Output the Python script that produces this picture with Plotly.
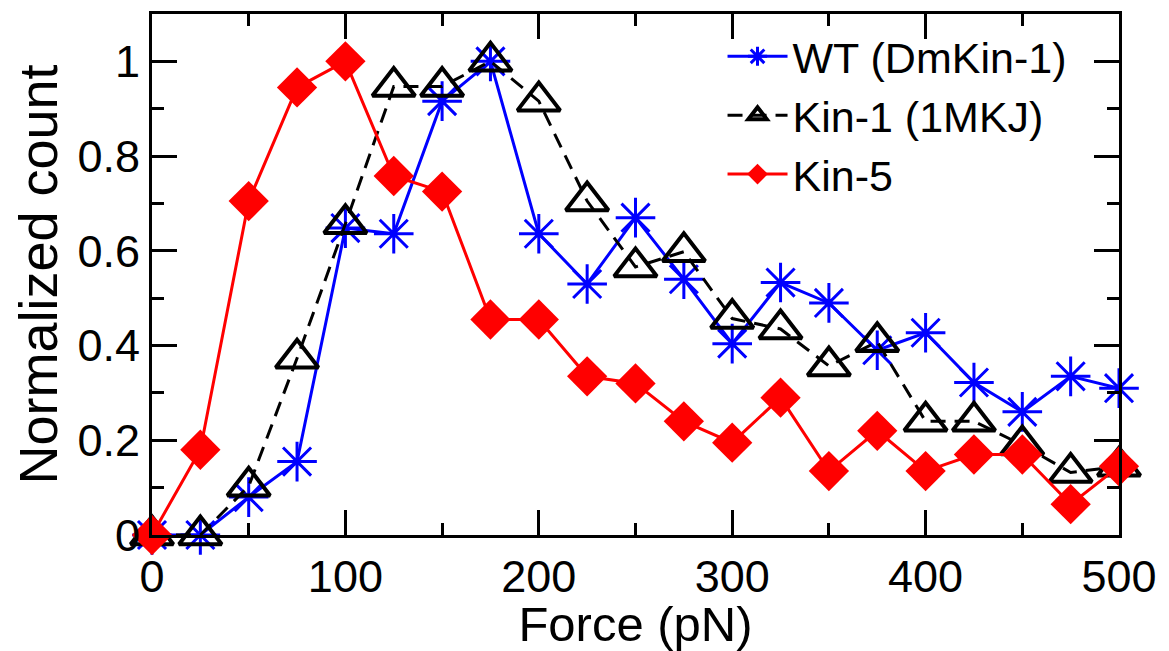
import plotly.graph_objects as go

force = [0, 25, 50, 75, 100, 125, 150, 175, 200, 225, 250, 275, 300, 325, 350, 375, 400, 425, 450, 475, 500]
wt = [0.0, 0.0, 0.08, 0.155, 0.648, 0.636, 0.916, 1.0, 0.636, 0.53, 0.67, 0.54, 0.404, 0.533, 0.49, 0.39, 0.427, 0.322, 0.26, 0.335, 0.31]
kin1 = [0.0, 0.0, 0.103, 0.373, 0.657, 0.947, 0.947, 1.0, 0.916, 0.705, 0.566, 0.598, 0.457, 0.435, 0.357, 0.408, 0.24, 0.24, 0.19, 0.132, 0.145]
kin5 = [0.0, 0.18, 0.705, 0.945, 1.0, 0.758, 0.725, 0.455, 0.455, 0.335, 0.32, 0.24, 0.195, 0.29, 0.135, 0.22, 0.135, 0.17, 0.17, 0.065, 0.145]

FONT = "Liberation Sans, Arial, Helvetica, sans-serif"

fig = go.Figure()
fig.add_trace(go.Scatter(
    x=force, y=wt, name="WT (DmKin-1)", mode="lines+markers",
    line=dict(color="#0000ff", width=3),
    marker=dict(symbol="asterisk-open", size=33, color="#0000ff", line=dict(color="#0000ff", width=3)),
    cliponaxis=False))
fig.add_trace(go.Scatter(
    x=force, y=kin1, name="Kin-1 (1MKJ)", mode="lines+markers",
    line=dict(color="black", width=3, dash="15px,9px"),
    marker=dict(symbol="triangle-up-open", size=37, color="black", line=dict(color="black", width=4)),
    cliponaxis=False))
fig.add_trace(go.Scatter(
    x=force, y=kin5, name="Kin-5", mode="lines+markers",
    line=dict(color="#ff0000", width=3),
    marker=dict(symbol="diamond", size=31, color="#ff0000", line=dict(width=0)),
    cliponaxis=False))

axis_common = dict(
    showline=True, linecolor="black", linewidth=3, mirror="allticks",
    ticks="inside", ticklen=25, tickwidth=3, tickcolor="black",
    showgrid=False, zeroline=False, automargin=False,
    tickfont=dict(family=FONT, size=45, color="black"),
)

fig.update_xaxes(
    range=[0, 500], dtick=100, tick0=0,
    minor=dict(ticks="inside", ticklen=12, tickwidth=3, tickcolor="black", dtick=50, showgrid=False),
    title=dict(text="Force (pN)", font=dict(family=FONT, size=49, color="black"), standoff=6),
    **axis_common)
fig.update_yaxes(
    range=[0, 1.1], dtick=0.2, tick0=0,
    minor=dict(ticks="inside", ticklen=12, tickwidth=3, tickcolor="black", dtick=0.1, showgrid=False),
    title=dict(text="Normalized count", font=dict(family=FONT, size=54, color="black"), standoff=10),
    **axis_common)

# page body adds an 8px margin, so the figure is sized and offset to compensate
fig.update_layout(
    width=1161, height=643,
    margin=dict(l=144, r=50, t=6, b=116),
    paper_bgcolor="white", plot_bgcolor="white",
    font=dict(family=FONT, color="black"),
    legend=dict(x=0.59, y=0.985, xanchor="left", yanchor="top",
                bgcolor="rgba(0,0,0,0)", font=dict(family=FONT, size=43, color="black"),
                itemwidth=60, tracegroupgap=0),
    showlegend=True,
)

fig.write_html("out.html")
